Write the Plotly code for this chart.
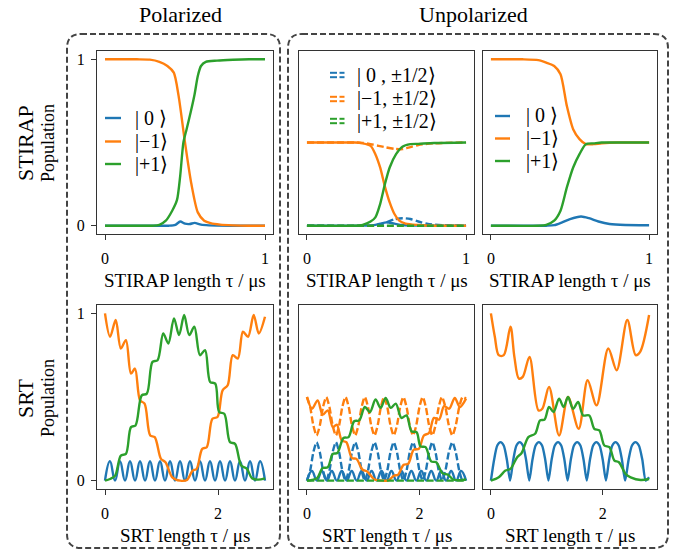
import plotly.graph_objects as go

# ---------------- data ----------------
BLUE, ORANGE, GREEN = "#1f77b4", "#ff7f0e", "#2ca02c"

# Panel 1: STIRAP, polarized
p1_blue_x = [0, 0.3, 0.4, 0.44, 0.47, 0.5, 0.53, 0.56, 0.6, 0.65, 0.8, 1.0]
p1_blue_y = [0, 0, 0, 0.005, 0.025, 0.012, 0.01, 0.017, 0.006, 0.002, 0, 0]
p1_orange_x = [0, 0.1, 0.2, 0.28, 0.34, 0.39, 0.43, 0.46, 0.5, 0.54, 0.58, 0.62, 0.66, 0.72, 0.8, 0.9, 1.0]
p1_orange_y = [1, 1, 1, 0.998, 0.985, 0.96, 0.92, 0.78, 0.5, 0.25, 0.08, 0.03, 0.015, 0.006, 0.002, 0.0, 0.0]
p1_green_x = [0, 0.2, 0.3, 0.34, 0.38, 0.42, 0.45, 0.47, 0.49, 0.51, 0.535, 0.56, 0.58, 0.6, 0.63, 0.7, 0.8, 0.9, 1.0]
p1_green_y = [0, 0, 0, 0.005, 0.03, 0.09, 0.155, 0.3, 0.5, 0.58, 0.68, 0.79, 0.9, 0.96, 0.985, 0.992, 0.997, 1.0, 1.0]

# Panel 2: STIRAP, unpolarized, per spin projection (solid / dashed)
p2_blue_x = [0, 0.35, 0.42, 0.46, 0.5, 0.55, 0.6, 0.7, 1.0]
p2_blue_y = [0, 0, 0.003, 0.012, 0.02, 0.012, 0.004, 0.001, 0]
p2_blue_dash_x = [0, 0.4, 0.45, 0.5, 0.55, 0.6, 0.65, 0.7, 0.76, 0.85, 1.0]
p2_blue_dash_y = [0, 0, 0.005, 0.02, 0.038, 0.045, 0.04, 0.025, 0.01, 0.003, 0]
p2_orange_x = [0, 0.2, 0.3, 0.35, 0.4, 0.43, 0.46, 0.49, 0.52, 0.55, 0.58, 0.62, 0.7, 0.8, 1.0]
p2_orange_y = [0.5, 0.5, 0.5, 0.495, 0.48, 0.43, 0.35, 0.235, 0.14, 0.07, 0.03, 0.012, 0.004, 0.0, 0.0]
p2_orange_dash_x = [0, 0.3, 0.35, 0.4, 0.45, 0.5, 0.55, 0.6, 0.65, 0.7, 0.8, 1.0]
p2_orange_dash_y = [0.5, 0.5, 0.498, 0.49, 0.48, 0.47, 0.462, 0.46, 0.472, 0.485, 0.495, 0.5]
p2_green_x = [0, 0.3, 0.35, 0.4, 0.43, 0.46, 0.49, 0.52, 0.56, 0.6, 0.65, 0.7, 0.8, 1.0]
p2_green_y = [0, 0, 0.005, 0.025, 0.05, 0.13, 0.25, 0.35, 0.43, 0.475, 0.49, 0.492, 0.497, 0.5]
p2_green_dash_x = [0, 0.25, 0.5, 0.75, 1.0]
p2_green_dash_y = [0, 0, 0, 0, 0]

# Panel 3: STIRAP, unpolarized, total
p3_blue_x = [0, 0.35, 0.4, 0.45, 0.5, 0.57, 0.62, 0.68, 0.75, 0.85, 1.0]
p3_blue_y = [0, 0, 0.003, 0.02, 0.04, 0.055, 0.045, 0.025, 0.01, 0.004, 0.003]
p3_orange_x = [0, 0.1, 0.2, 0.3, 0.35, 0.4, 0.44, 0.48, 0.52, 0.56, 0.6, 0.65, 0.7, 0.8, 0.9, 1.0]
p3_orange_y = [1, 1, 1, 0.995, 0.98, 0.96, 0.91, 0.72, 0.58, 0.52, 0.49, 0.49, 0.495, 0.5, 0.5, 0.5]
p3_green_x = [0, 0.3, 0.35, 0.4, 0.44, 0.48, 0.52, 0.56, 0.6, 0.65, 0.7, 0.8, 1.0]
p3_green_y = [0, 0, 0.005, 0.03, 0.09, 0.23, 0.35, 0.43, 0.49, 0.495, 0.5, 0.5, 0.5]

# Panel 4: SRT, polarized (fast |0> oscillation: troughs and crests)
srt_fast_x = [0, 0.088, 0.177, 0.265, 0.354, 0.442, 0.531, 0.619, 0.708, 0.796, 0.884,
              0.973, 1.061, 1.150, 1.238, 1.327, 1.415, 1.503, 1.592, 1.680, 1.769,
              1.857, 1.946, 2.034, 2.123, 2.211, 2.299, 2.388, 2.476, 2.565, 2.653,
              2.742, 2.830]
p4_blue_y = [0, 0.116, 0, 0.116, 0, 0.116, 0, 0.116, 0, 0.116, 0, 0.116, 0, 0.116, 0, 0.116, 0,
             0.116, 0, 0.116, 0, 0.116, 0, 0.116, 0, 0.116, 0, 0.116, 0, 0.116, 0, 0.116, 0]
p4_orange_x = [0, 0.09, 0.19, 0.28, 0.37, 0.46, 0.53, 0.62, 0.70, 0.80, 0.88, 0.99, 1.07, 1.19,
               1.33, 1.45, 1.55, 1.62, 1.72, 1.80, 1.90, 1.99, 2.08, 2.17, 2.26, 2.35, 2.44,
               2.53, 2.63, 2.72, 2.83]
p4_orange_y = [1.0, 0.86, 0.96, 0.79, 0.84, 0.64, 0.67, 0.48, 0.46, 0.27, 0.26, 0.13, 0.11, 0.02,
               0.0, 0.004, 0.06, 0.07, 0.19, 0.2, 0.37, 0.38, 0.54, 0.57, 0.75, 0.73, 0.89,
               0.86, 0.99, 0.88, 0.98]
p4_green_x = [0, 0.09, 0.18, 0.28, 0.37, 0.46, 0.54, 0.65, 0.74, 0.84, 0.93, 1.03, 1.12, 1.22,
              1.31, 1.40, 1.49, 1.58, 1.68, 1.77, 1.86, 1.95, 2.02, 2.11, 2.21, 2.30, 2.41,
              2.51, 2.60, 2.71, 2.83]
p4_green_y = [0, 0.01, 0.03, 0.15, 0.16, 0.32, 0.33, 0.51, 0.52, 0.71, 0.72, 0.88, 0.82, 0.97,
              0.87, 0.99, 0.87, 0.92, 0.75, 0.78, 0.59, 0.58, 0.41, 0.40, 0.23, 0.22, 0.09,
              0.07, 0.014, 0.006, 0.014]

# Panel 5: SRT, unpolarized, per spin projection (solid / dashed)
p5_blue_y = [0, 0.058, 0, 0.058, 0, 0.058, 0, 0.058, 0, 0.058, 0, 0.058, 0, 0.058, 0, 0.058, 0,
             0.058, 0, 0.058, 0, 0.058, 0, 0.058, 0, 0.058, 0, 0.058, 0, 0.058, 0, 0.058, 0]
p5_orange_y = [0.5, 0.43, 0.48, 0.395, 0.42, 0.32, 0.335, 0.24, 0.23, 0.135, 0.13, 0.065, 0.055,
               0.01, 0.0, 0.002, 0.03, 0.035, 0.095, 0.1, 0.185, 0.19, 0.27, 0.285, 0.375,
               0.365, 0.445, 0.43, 0.495, 0.44, 0.49]
p5_green_y = [0, 0.005, 0.015, 0.075, 0.08, 0.16, 0.165, 0.255, 0.26, 0.355, 0.36, 0.44, 0.41,
              0.485, 0.435, 0.495, 0.435, 0.46, 0.375, 0.39, 0.295, 0.29, 0.205, 0.2, 0.115,
              0.11, 0.045, 0.035, 0.007, 0.003, 0.007]
srt_slow_x = [0, 0.057, 0.114, 0.172, 0.229, 0.286, 0.343,
              0.400, 0.457, 0.515, 0.572, 0.629, 0.686,
              0.743, 0.800, 0.858, 0.915, 0.972, 1.029,
              1.086, 1.143, 1.201, 1.258, 1.315, 1.372,
              1.429, 1.486, 1.544, 1.601, 1.658, 1.715,
              1.772, 1.829, 1.887, 1.944, 2.001, 2.058,
              2.115, 2.172, 2.230, 2.287, 2.344, 2.401,
              2.463, 2.524, 2.586, 2.647, 2.709, 2.770, 2.830]
p5_blue_dash_y = [0,
    0.06, 0.17, 0.23, 0.17, 0.06, 0, 0.06, 0.17, 0.23, 0.17, 0.06, 0,
    0.06, 0.17, 0.23, 0.17, 0.06, 0, 0.06, 0.17, 0.23, 0.17, 0.06, 0,
    0.06, 0.17, 0.23, 0.17, 0.06, 0, 0.06, 0.17, 0.23, 0.17, 0.06, 0,
    0.06, 0.17, 0.23, 0.17, 0.06, 0, 0.06, 0.17, 0.23, 0.17, 0.06, 0, 0.01]
p5_orange_dash_y = [0.5,
    0.44, 0.33, 0.27, 0.33, 0.44, 0.5, 0.44, 0.33, 0.27, 0.33, 0.44, 0.5,
    0.44, 0.33, 0.27, 0.33, 0.44, 0.5, 0.44, 0.33, 0.27, 0.33, 0.44, 0.5,
    0.44, 0.33, 0.27, 0.33, 0.44, 0.5, 0.44, 0.33, 0.27, 0.33, 0.44, 0.5,
    0.44, 0.33, 0.27, 0.33, 0.44, 0.5, 0.44, 0.33, 0.27, 0.33, 0.44, 0.5, 0.49]
p5_green_dash_x = [0, 0.7, 1.4, 2.1, 2.83]
p5_green_dash_y = [0, 0, 0, 0, 0]

# Panel 6: SRT, unpolarized, total
p6_blue_y = [0,
    0.125, 0.21, 0.23, 0.21, 0.125, 0, 0.125, 0.21, 0.23, 0.21, 0.125, 0,
    0.125, 0.21, 0.23, 0.21, 0.125, 0, 0.125, 0.21, 0.23, 0.21, 0.125, 0,
    0.125, 0.21, 0.23, 0.21, 0.125, 0, 0.125, 0.21, 0.23, 0.21, 0.125, 0,
    0.125, 0.21, 0.23, 0.21, 0.125, 0, 0.125, 0.21, 0.23, 0.21, 0.125, 0, 0.02]
p6_orange_x = [0, 0.07, 0.14, 0.23, 0.35, 0.42, 0.5, 0.57, 0.69, 0.85, 0.92, 1.04, 1.22, 1.38,
               1.57, 1.73, 1.89, 2.1, 2.25, 2.44, 2.59, 2.67, 2.83]
p6_orange_y = [1.0, 0.86, 0.75, 0.75, 0.92, 0.74, 0.61, 0.62, 0.74, 0.42, 0.43, 0.56, 0.27, 0.5,
               0.31, 0.60, 0.45, 0.79, 0.66, 0.96, 0.75, 0.77, 0.99]
p6_green_x = [0, 0.14, 0.26, 0.35, 0.47, 0.55, 0.67, 0.79, 0.88, 0.96, 1.04, 1.12, 1.22, 1.30,
              1.38, 1.47, 1.56, 1.65, 1.76, 1.85, 1.94, 2.03, 2.12, 2.21, 2.29, 2.41, 2.5,
              2.68, 2.83]
p6_green_y = [0, 0.02, 0.06, 0.07, 0.14, 0.165, 0.26, 0.28, 0.36, 0.365, 0.44, 0.41, 0.49, 0.44,
              0.50, 0.43, 0.47, 0.39, 0.39, 0.31, 0.30, 0.21, 0.20, 0.12, 0.11, 0.04, 0.02,
              0.004, 0.01]

# tick labels and text
stirap_ticks = [0, 1]
srt_ticks = [0, 2]
pop_ticks = [0, 1]
col_titles = ["Polarized", "Unpolarized"]
row_titles = ["STIRAP", "SRT"]
xlabels = ["STIRAP length τ / μs", "SRT length τ / μs"]
legend_pol = ["| 0 ⟩", "|−1⟩", "|+1⟩"]
legend_unpol = ["| 0 , ±1/2⟩", "|−1, ±1/2⟩", "|+1, ±1/2⟩"]

# ---------------- layout geometry (pixels) ----------------
W, H = 691, 554
FONT = "Liberation Serif"
LW = 2.4
col_px = [(97, 273), (299, 474), (483, 657)]
row_px = [(51, 234), (305, 489)]


def px(x):
    return x / W


def py(y):
    return 1 - y / H


fig = go.Figure()

panels = {}
for r in range(2):
    for c in range(3):
        panels[(r, c)] = r * 3 + c + 1


def add(r, c, x, y, color, dash=None, smooth=0.7):
    i = panels[(r, c)]
    fig.add_trace(go.Scatter(
        x=x, y=y, mode="lines",
        line=dict(color=color, width=LW, dash=dash, shape="spline", smoothing=smooth),
        xaxis="x" if i == 1 else f"x{i}", yaxis="y" if i == 1 else f"y{i}",
        showlegend=False, hoverinfo="skip"))


DASH = "7px,3px"
# STIRAP row
add(0, 0, p1_blue_x, p1_blue_y, BLUE)
add(0, 0, p1_orange_x, p1_orange_y, ORANGE)
add(0, 0, p1_green_x, p1_green_y, GREEN)
add(0, 1, p2_blue_x, p2_blue_y, BLUE)
add(0, 1, p2_blue_dash_x, p2_blue_dash_y, BLUE, DASH)
add(0, 1, p2_orange_x, p2_orange_y, ORANGE)
add(0, 1, p2_orange_dash_x, p2_orange_dash_y, ORANGE, DASH)
add(0, 1, p2_green_x, p2_green_y, GREEN)
add(0, 1, p2_green_dash_x, p2_green_dash_y, GREEN, DASH)
add(0, 2, p3_blue_x, p3_blue_y, BLUE)
add(0, 2, p3_orange_x, p3_orange_y, ORANGE)
add(0, 2, p3_green_x, p3_green_y, GREEN)
# SRT row
add(1, 0, srt_fast_x, p4_blue_y, BLUE, smooth=1.3)
add(1, 0, p4_orange_x, p4_orange_y, ORANGE, smooth=0.9)
add(1, 0, p4_green_x, p4_green_y, GREEN, smooth=0.9)
add(1, 1, srt_fast_x, p5_blue_y, BLUE, smooth=1.3)
add(1, 1, srt_slow_x, p5_blue_dash_y, BLUE, DASH)
add(1, 1, p4_orange_x, p5_orange_y, ORANGE, smooth=0.9)
add(1, 1, srt_slow_x, p5_orange_dash_y, ORANGE, DASH)
add(1, 1, p4_green_x, p5_green_y, GREEN, smooth=0.9)
add(1, 1, p5_green_dash_x, p5_green_dash_y, GREEN, DASH)
add(1, 2, srt_slow_x, p6_blue_y, BLUE)
add(1, 2, p6_orange_x, p6_orange_y, ORANGE, smooth=0.9)
add(1, 2, p6_green_x, p6_green_y, GREEN, smooth=0.9)

axis_common = dict(showline=True, mirror=True, linecolor="#333333", linewidth=1.3,
                   showgrid=False, zeroline=False, ticks="outside", ticklen=5,
                   tickwidth=1.2, tickcolor="#333333",
                   tickfont=dict(family=FONT, size=16, color="black"))
layout_axes = {}
for (r, c), i in panels.items():
    xn = "xaxis" if i == 1 else f"xaxis{i}"
    yn = "yaxis" if i == 1 else f"yaxis{i}"
    xd = [px(col_px[c][0]), px(col_px[c][1])]
    yd = [py(row_px[r][1]), py(row_px[r][0])]
    if r == 0:
        xr, tv = [-0.05, 1.05], stirap_ticks
    else:
        xr, tv = [-0.1415, 2.9715], srt_ticks
    layout_axes[xn] = dict(axis_common, domain=xd, anchor="y" if i == 1 else f"y{i}",
                           range=xr, tickvals=tv, ticktext=[str(t) for t in tv],
                           ticklabelstandoff=5)
    ya = dict(axis_common, domain=yd, anchor="x" if i == 1 else f"x{i}",
              range=[-0.05, 1.05], tickvals=pop_ticks, ticktext=[str(t) for t in pop_ticks],
              ticklabelstandoff=3)
    if c != 0:
        ya.update(ticks="", showticklabels=False)
    layout_axes[yn] = ya

fig.update_layout(**layout_axes)

ann = []
shapes = []


def text(x, y, s, size, angle=0, xanchor="center"):
    ann.append(dict(x=px(x), y=py(y), xref="paper", yref="paper", text=s, showarrow=False,
                    font=dict(family=FONT, size=size, color="black"), textangle=angle,
                    xanchor=xanchor, yanchor="middle"))


# column titles
text(180, 14, col_titles[0], 22)
text(473, 14, col_titles[1], 22)
# row titles
for r, yc in enumerate([143, 398]):
    text(25, yc, row_titles[r], 22, angle=-90)
    text(48, yc, "Population", 18, angle=-90)
# x-axis labels
for c in range(3):
    xc = (col_px[c][0] + col_px[c][1]) / 2
    text(xc, 280, xlabels[0], 19)
    text(xc, 535, xlabels[1], 19)

# legends
colors = [BLUE, ORANGE, GREEN]
for k, yc in enumerate([118, 141.5, 164]):
    shapes.append(dict(type="line", xref="paper", yref="paper", x0=px(105), x1=px(121),
                       y0=py(yc), y1=py(yc), line=dict(color=colors[k], width=LW)))
    text(133, yc, legend_pol[k], 20, xanchor="left")
for k, yc in enumerate([116, 138.5, 161]):
    shapes.append(dict(type="line", xref="paper", yref="paper", x0=px(495), x1=px(510),
                       y0=py(yc), y1=py(yc), line=dict(color=colors[k], width=LW)))
    text(524, yc, legend_pol[k], 20, xanchor="left")
for k, yc in enumerate([75, 99, 121]):
    for dy in (-2.2, 2.2):
        for (a, b) in ((330, 337), (339.5, 344.5)):
            shapes.append(dict(type="line", xref="paper", yref="paper", x0=px(a), x1=px(b),
                               y0=py(yc + dy), y1=py(yc + dy),
                               line=dict(color=colors[k], width=2)))
    text(355, yc, legend_unpol[k], 20, xanchor="left")


# dashed rounded boxes
def rounded(x0, y0, x1, y1, r=14):
    rx, ry = r / W, r / H
    X0, X1, Y0, Y1 = px(x0), px(x1), py(y0), py(y1)
    return (f"M {X0+rx},{Y0} L {X1-rx},{Y0} Q {X1},{Y0} {X1},{Y0-ry} "
            f"L {X1},{Y1+ry} Q {X1},{Y1} {X1-rx},{Y1} L {X0+rx},{Y1} "
            f"Q {X0},{Y1} {X0},{Y1+ry} L {X0},{Y0-ry} Q {X0},{Y0} {X0+rx},{Y0} Z")


for box in [(67, 34, 280, 548), (288, 34, 668, 548)]:
    shapes.append(dict(type="path", xref="paper", yref="paper", path=rounded(*box),
                       line=dict(color="#444444", width=2, dash="6px,3px")))

fig.update_layout(width=W, height=H, autosize=False,
                  margin=dict(l=0, r=0, t=0, b=0),
                  paper_bgcolor="white", plot_bgcolor="white",
                  annotations=ann, shapes=shapes, showlegend=False)

fig.write_html("out.html", config={"displayModeBar": False},
               post_script="document.body.style.margin='0';document.body.style.overflow='hidden';")
